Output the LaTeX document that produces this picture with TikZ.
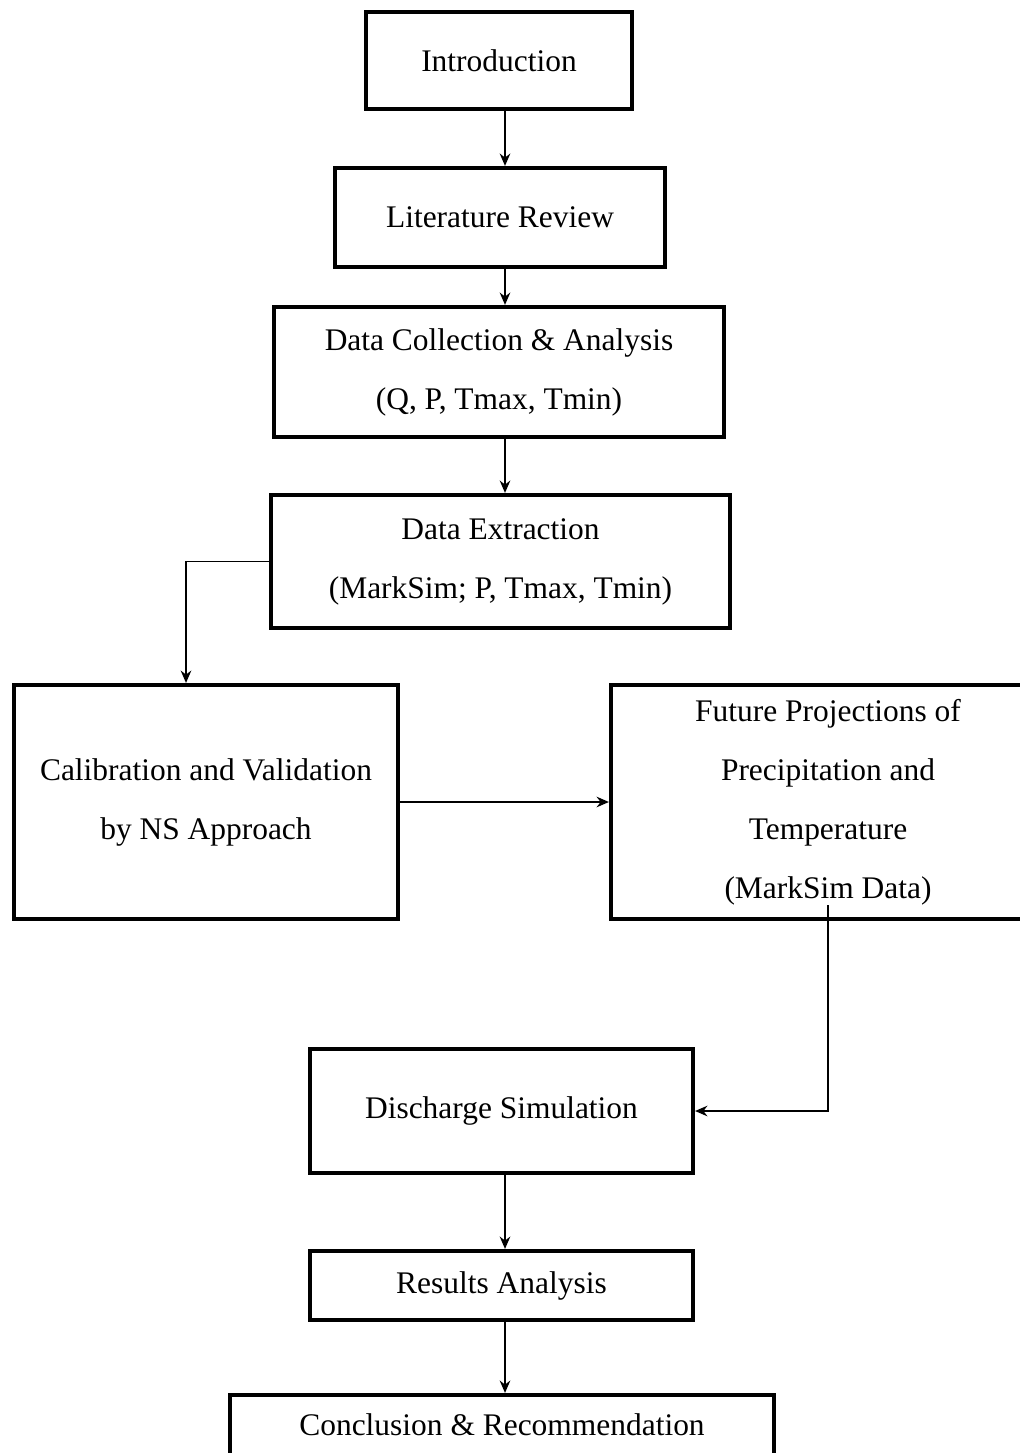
\documentclass[tikz,border=0pt]{standalone}
\usepackage{fontspec}
\setmainfont{Liberation Serif}
\usetikzlibrary{arrows.meta}
\tikzset{
	box/.style={draw,line width=2.4pt,align=center,inner sep=2pt,font=\fontsize{17.9}{33.6}\selectfont},
	link/.style={line width=1.1pt,-{Stealth[length=7pt,width=6pt]}}
}
\begin{document}
\begin{tikzpicture}[x=0.02cm,y=-0.02cm]
	\useasboundingbox (0,0) rectangle (1020,1453);
	\clip (0,0) rectangle (1020,1453);
	\node[box,minimum width=5.32cm,minimum height=1.94cm] (intro) at (499,60.5) {Introduction};
	\node[box,minimum width=6.6cm,minimum height=1.98cm] (lit) at (500,217.5) {Literature Review};
	\node[box,minimum width=9cm,minimum height=2.6cm] (coll) at (499,372) {Data Collection \& Analysis\\(Q, P, Tmax, Tmin)};
	\node[box,minimum width=9.18cm,minimum height=2.66cm] (extr) at (500.5,561.5) {Data Extraction\\(MarkSim; P, Tmax, Tmin)};
	\node[box,minimum width=7.68cm,minimum height=4.68cm] (calib) at (206,802) {Calibration and Validation\\by NS Approach};
	\node[box,minimum width=8.68cm,minimum height=4.68cm] (future) at (828,802) {Future Projections of\\Precipitation and\\Temperature\\(MarkSim Data)};
	\node[box,minimum width=7.66cm,minimum height=2.48cm] (disch) at (501.5,1111) {Discharge Simulation};
	\node[box,minimum width=7.66cm,minimum height=1.38cm] (results) at (501.5,1285.5) {Results Analysis};
	\node[box,minimum width=10.88cm,minimum height=2.38cm] (concl) at (502,1454.5) {Conclusion \& Recommendation\\\mbox{}};
	\coordinate (spine) at (505,0);
	\coordinate (drop) at (186,0);
	\coordinate (tap) at (828,905);
	\draw[link] (intro.south -| spine) -- (lit.north -| spine);
	\draw[link] (lit.south -| spine) -- (coll.north -| spine);
	\draw[link] (coll.south -| spine) -- (extr.north -| spine);
	\draw[link] (extr.west) -| (calib.north -| drop);
	\draw[link] (calib.east) -- (calib.east -| future.west);
	\draw[link] (tap) |- (disch.east);
	\draw[link] (disch.south -| spine) -- (results.north -| spine);
	\draw[link] (results.south -| spine) -- (concl.north -| spine);
\end{tikzpicture}
\end{document}
